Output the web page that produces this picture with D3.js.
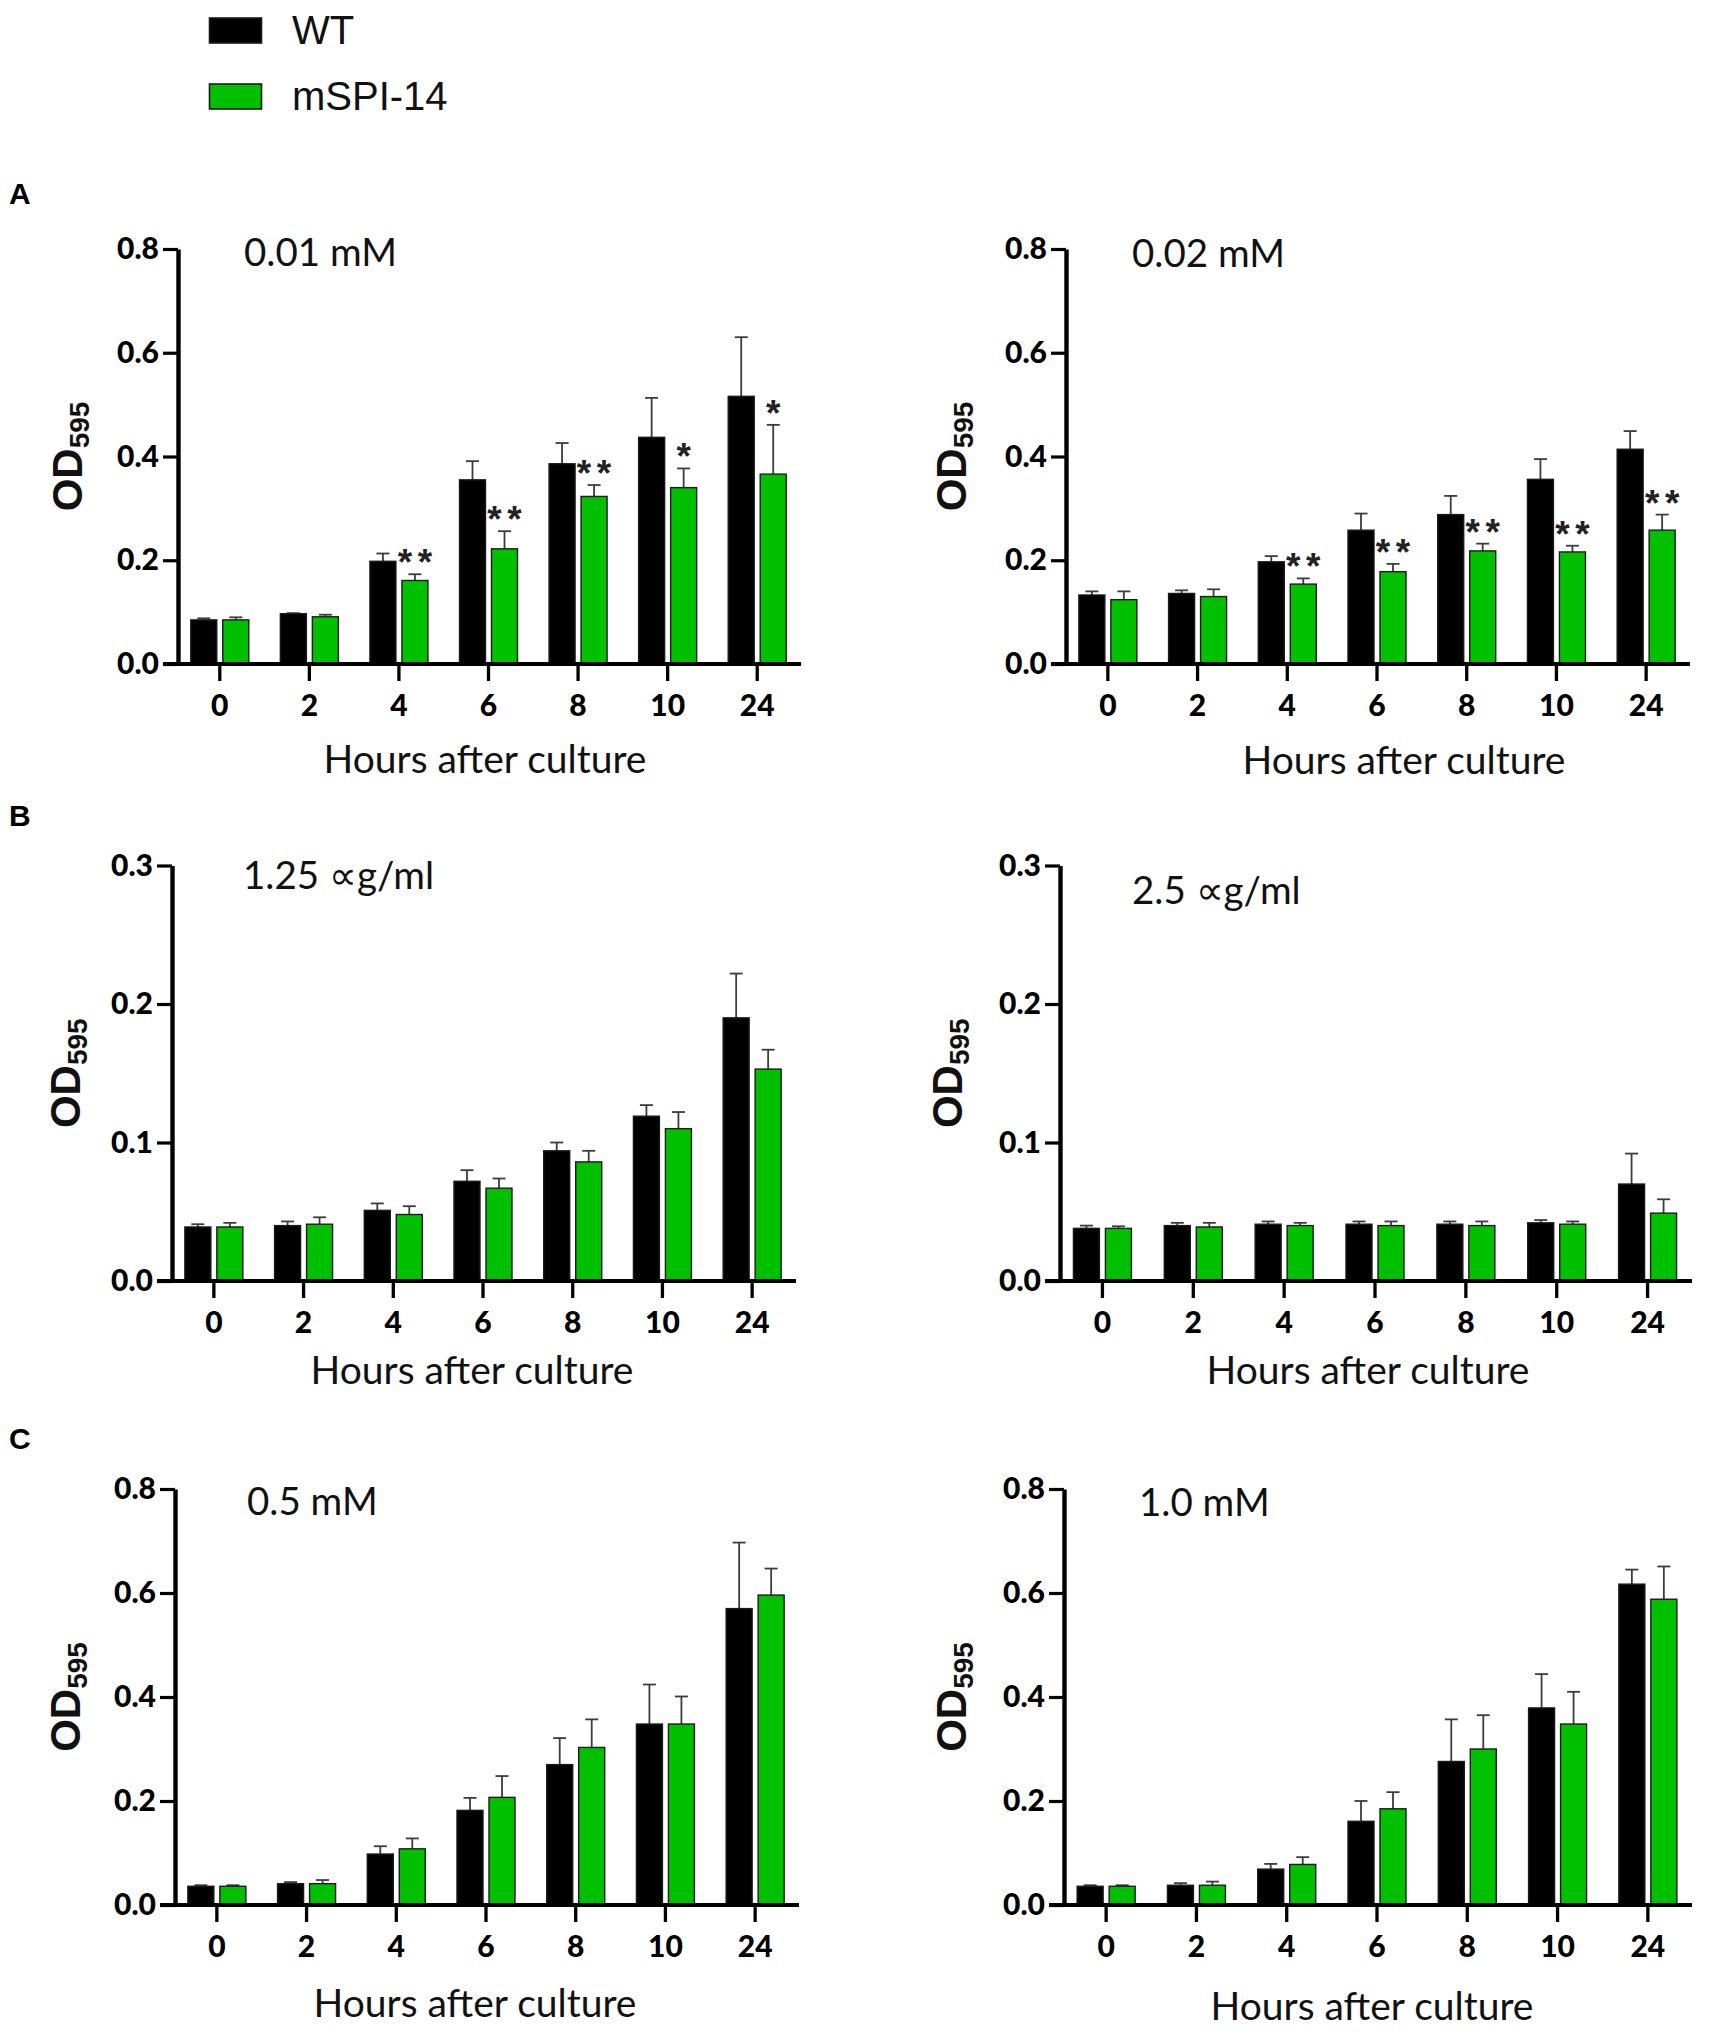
<!DOCTYPE html>
<html>
<head>
<meta charset="utf-8">
<script src="https://cdn.jsdelivr.net/npm/d3@7"></script>
<style>
  html, body { margin: 0; padding: 0; background: #fff; }
  svg { display: block; }
</style>
</head>
<body>
<svg id="chart" width="1713" height="2039"></svg>
<script>
// ---------------- DATA ----------------
const hours = ["0", "2", "4", "6", "8", "10", "24"];
const seriesNames = ["WT", "mSPI-14"];
const seriesColors = ["#000000", "#00c000"];
const ticks08 = [0, 0.2, 0.4, 0.6, 0.8];
const ticks03 = [0, 0.1, 0.2, 0.3];
const panelLetters = ["A", "B", "C"];
const panelTitles = ["0.01 mM", "0.02 mM", "1.25 \u221Dg/ml", "2.5 \u221Dg/ml", "0.5 mM", "1.0 mM"];
const yTitleMain = "OD";
const yTitleSub = "595";
const xTitle = "Hours after culture";

// Panel A, 0.01 mM
const wtA1     = [0.085, 0.097, 0.198, 0.355, 0.386, 0.437, 0.516];
const wtA1Err  = [0.003, 0.001, 0.015, 0.036, 0.040, 0.076, 0.114];
const msA1     = [0.085, 0.091, 0.161, 0.222, 0.323, 0.340, 0.366];
const msA1Err  = [0.005, 0.004, 0.012, 0.034, 0.022, 0.037, 0.095];
const sigA1    = ["", "", "**", "**", "**", "*", "*"];
// Panel A, 0.02 mM
const wtA2     = [0.133, 0.136, 0.197, 0.258, 0.288, 0.356, 0.414];
const wtA2Err  = [0.007, 0.006, 0.011, 0.032, 0.036, 0.039, 0.035];
const msA2     = [0.124, 0.130, 0.154, 0.178, 0.218, 0.216, 0.258];
const msA2Err  = [0.016, 0.014, 0.011, 0.015, 0.014, 0.012, 0.030];
const sigA2    = ["", "", "**", "**", "**", "**", "**"];
// Panel B, 1.25 ug/ml
const wtB1     = [0.039, 0.040, 0.051, 0.072, 0.094, 0.119, 0.190];
const wtB1Err  = [0.002, 0.003, 0.005, 0.008, 0.006, 0.008, 0.032];
const msB1     = [0.039, 0.041, 0.048, 0.067, 0.086, 0.110, 0.153];
const msB1Err  = [0.003, 0.005, 0.006, 0.007, 0.008, 0.012, 0.014];
// Panel B, 2.5 ug/ml
const wtB2     = [0.038, 0.040, 0.041, 0.041, 0.041, 0.042, 0.070];
const wtB2Err  = [0.002, 0.002, 0.002, 0.002, 0.002, 0.002, 0.022];
const msB2     = [0.038, 0.039, 0.040, 0.040, 0.040, 0.041, 0.049];
const msB2Err  = [0.0015, 0.003, 0.002, 0.003, 0.003, 0.002, 0.010];
// Panel C, 0.5 mM
const wtC1     = [0.036, 0.041, 0.098, 0.182, 0.270, 0.348, 0.570];
const wtC1Err  = [0.002, 0.003, 0.015, 0.024, 0.051, 0.076, 0.127];
const msC1     = [0.036, 0.041, 0.108, 0.207, 0.303, 0.348, 0.596];
const msC1Err  = [0.002, 0.007, 0.020, 0.041, 0.054, 0.053, 0.051];
// Panel C, 1.0 mM
const wtC2     = [0.036, 0.038, 0.069, 0.161, 0.276, 0.379, 0.617];
const wtC2Err  = [0.002, 0.004, 0.010, 0.039, 0.081, 0.065, 0.028];
const msC2     = [0.036, 0.038, 0.078, 0.185, 0.300, 0.348, 0.588];
const msC2Err  = [0.002, 0.007, 0.014, 0.032, 0.065, 0.062, 0.063];

// ---------------- LAYOUT ----------------
const svg = d3.select("#chart");
svg.append("rect").attr("width", 1713).attr("height", 2039).attr("fill", "#fff");

const numFont = "Lato, 'Open Sans', 'Noto Sans', sans-serif";
const arialFont = "'Liberation Sans', Arial, 'DejaVu Sans', sans-serif";

const panels = [
  { wt: wtA1, wtE: wtA1Err, ms: msA1, msE: msA1Err, sig: sigA1, ticks: ticks08, title: panelTitles[0],
    ax: 178, xEnd: 801, y0: 664, yT: 249, tx: 244, ty: 266, hx: 485, hy: 773, odX: 82 },
  { wt: wtA2, wtE: wtA2Err, ms: msA2, msE: msA2Err, sig: sigA2, ticks: ticks08, title: panelTitles[1],
    ax: 1066, xEnd: 1690, y0: 664, yT: 249, tx: 1132, ty: 267, hx: 1404, hy: 774, odX: 966 },
  { wt: wtB1, wtE: wtB1Err, ms: msB1, msE: msB1Err, sig: null, ticks: ticks03, title: panelTitles[2],
    ax: 172, xEnd: 796, y0: 1281, yT: 865.5, tx: 243, ty: 889, hx: 472, hy: 1384, odX: 80 },
  { wt: wtB2, wtE: wtB2Err, ms: msB2, msE: msB2Err, sig: null, ticks: ticks03, title: panelTitles[3],
    ax: 1060, xEnd: 1692, y0: 1281, yT: 865.5, tx: 1132, ty: 904, hx: 1368, hy: 1384, odX: 962 },
  { wt: wtC1, wtE: wtC1Err, ms: msC1, msE: msC1Err, sig: null, ticks: ticks08, title: panelTitles[4],
    ax: 175, xEnd: 799, y0: 1905, yT: 1489, tx: 247, ty: 1515, hx: 475, hy: 2017, odX: 80 },
  { wt: wtC2, wtE: wtC2Err, ms: msC2, msE: msC2Err, sig: null, ticks: ticks08, title: panelTitles[5],
    ax: 1064, xEnd: 1692, y0: 1905, yT: 1489, tx: 1139, ty: 1516, hx: 1372, hy: 2020, odX: 966 }
];

const barW = 26, barGap = 3, capW = 13;

panels.forEach(p => {
  const g = svg.append("g");
  const yMax = p.ticks[p.ticks.length - 1];
  const y = d3.scaleLinear().domain([0, yMax]).range([p.y0, p.yT]);
  const x = d3.scaleBand().domain(hours).range([p.ax - 3, p.xEnd + 1]).paddingInner(0).paddingOuter(0);
  const cx = h => x(h) + x.bandwidth() / 2;

  const groups = [
    { vals: p.wt, errs: p.wtE, color: seriesColors[0], off: -barGap - barW },
    { vals: p.ms, errs: p.msE, color: seriesColors[1], off: barGap }
  ];
  groups.forEach(s => {
    // error bars (upper only)
    g.selectAll(null).data(hours).enter().append("line")
      .attr("x1", (h) => cx(h) + s.off + barW / 2)
      .attr("x2", (h) => cx(h) + s.off + barW / 2)
      .attr("y1", (h, i) => y(s.vals[i]))
      .attr("y2", (h, i) => y(s.vals[i] + s.errs[i]))
      .attr("stroke", "#3c3c3c").attr("stroke-width", 1.8);
    g.selectAll(null).data(hours).enter().append("line")
      .attr("x1", (h) => cx(h) + s.off + barW / 2 - capW / 2)
      .attr("x2", (h) => cx(h) + s.off + barW / 2 + capW / 2)
      .attr("y1", (h, i) => y(s.vals[i] + s.errs[i]))
      .attr("y2", (h, i) => y(s.vals[i] + s.errs[i]))
      .attr("stroke", "#3c3c3c").attr("stroke-width", 1.8);
    g.selectAll(null).data(hours).enter().append("rect")
      .attr("x", (h) => cx(h) + s.off)
      .attr("width", barW)
      .attr("y", (h, i) => y(s.vals[i]))
      .attr("height", (h, i) => y(0) - y(s.vals[i]))
      .attr("fill", s.color)
      .attr("stroke", "#1a1a1a").attr("stroke-width", 1.4);
  });

  // significance stars
  if (p.sig) {
    hours.forEach((h, i) => {
      const s = p.sig[i];
      if (!s) return;
      const sx = cx(h) + barGap + barW / 2;
      const top = y(p.ms[i] + p.msE[i]);
      for (let k = 0; k < s.length; k++) {
        g.append("text")
          .attr("x", sx + (k - (s.length - 1) / 2) * 20)
          .attr("y", top + 1)
          .attr("text-anchor", "middle")
          .attr("font-family", arialFont)
          .attr("font-weight", 700)
          .attr("font-size", 37)
          .attr("fill", "#222")
          .text("*");
      }
    });
  }

  // y axis
  const yAxis = d3.axisLeft(y).tickValues(p.ticks).tickFormat(d3.format(".1f"))
    .tickSize(15).tickSizeOuter(0).tickPadding(4);
  const ya = g.append("g").attr("transform", `translate(${p.ax},0)`).call(yAxis);
  ya.select(".domain").attr("stroke", "#000").attr("stroke-width", 4.4);
  ya.selectAll(".tick line").attr("stroke", "#000").attr("stroke-width", 3.2);
  ya.selectAll(".tick text").attr("font-family", numFont).attr("font-weight", 900)
    .attr("font-size", 30).attr("fill", "#000");

  // x axis
  const xAxis = d3.axisBottom(x).tickSize(17).tickSizeOuter(0);
  const xa = g.append("g").attr("transform", `translate(0,${p.y0})`).call(xAxis);
  xa.select(".domain").remove();
  xa.selectAll(".tick line").attr("stroke", "#000").attr("stroke-width", 3.3);
  xa.selectAll(".tick text").attr("font-family", numFont).attr("font-weight", 900)
    .attr("font-size", 30).attr("fill", "#000").attr("y", 31);
  g.append("line").attr("x1", p.ax - 15).attr("x2", p.xEnd)
    .attr("y1", p.y0).attr("y2", p.y0).attr("stroke", "#000").attr("stroke-width", 4);

  // panel title
  g.append("text").attr("x", p.tx).attr("y", p.ty)
    .attr("font-family", numFont).attr("font-size", 38.5).attr("fill", "#111")
    .text(p.title);

  // x title
  g.append("text").attr("x", p.hx).attr("y", p.hy).attr("text-anchor", "middle")
    .attr("font-family", numFont).attr("font-size", 39).attr("fill", "#111")
    .text(xTitle);

  // y title
  const yMid = (p.y0 + p.yT) / 2;
  const yt = g.append("text")
    .attr("transform", `translate(${p.odX},${yMid}) rotate(-90)`)
    .attr("text-anchor", "middle")
    .attr("font-family", arialFont).attr("font-weight", 700)
    .attr("font-size", 42).attr("fill", "#111");
  yt.append("tspan").text(yTitleMain);
  yt.append("tspan").attr("font-size", 28).attr("dy", 7).text(yTitleSub);
});

// panel letters
const letterY = [204, 826, 1449];
panelLetters.forEach((L, i) => {
  svg.append("text").attr("x", 9).attr("y", letterY[i])
    .attr("font-family", arialFont).attr("font-weight", 700).attr("font-size", 30)
    .attr("fill", "#000").text(L);
});

// legend
const legY = [18, 84];
seriesNames.forEach((name, i) => {
  svg.append("rect").attr("x", 209.5).attr("y", legY[i]).attr("width", 52).attr("height", 25)
    .attr("fill", seriesColors[i]).attr("stroke", "#1a1a1a").attr("stroke-width", 1.6);
  svg.append("text").attr("x", 292).attr("y", legY[i] + 25.5)
    .attr("font-family", arialFont).attr("font-size", 40).attr("fill", "#111").text(name);
});
</script>
</body>
</html>
